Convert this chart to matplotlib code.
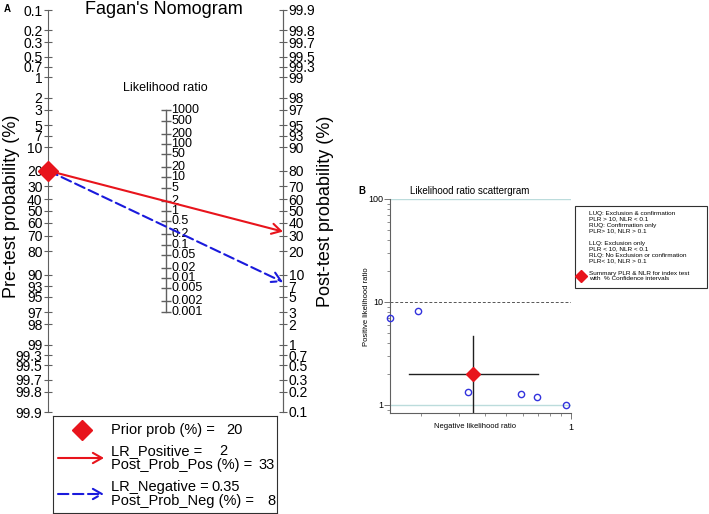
import numpy as np
import matplotlib
matplotlib.use('Agg')
import matplotlib.pyplot as plt
from matplotlib.patches import FancyArrowPatch, Rectangle

plt.rcParams['font.family'] = ['Liberation Sans', 'DejaVu Sans']

# ---- data: Fagan's nomogram (panel A)
pre_ticks = [0.1, 0.2, 0.3, 0.5, 0.7, 1, 2, 3, 5, 7, 10, 20, 30, 40, 50, 60, 70, 80,
             90, 93, 95, 97, 98, 99, 99.3, 99.5, 99.7, 99.8, 99.9]
post_ticks = pre_ticks
lr_ticks = [1000, 500, 200, 100, 50, 20, 10, 5, 2, 1, 0.5, 0.2, 0.1, 0.05, 0.02,
            0.01, 0.005, 0.002, 0.001]
prior_prob = 20
lr_pos = 2
lr_neg = 0.35
post_prob_pos = 33
post_prob_neg = 8

# ---- data: likelihood ratio scattergram (panel B)
study_nlr = [0.144, 0.194, 0.332, 0.585, 0.695, 0.95]
study_plr = [7.0, 8.2, 1.34, 1.28, 1.2, 1.0]
summary_nlr = 0.35
summary_plr = 2.0
nlr_ci = [0.177, 0.70]
plr_ci = [0.8, 4.7]

W, H = 709, 514
RED = '#e8141c'
BLUE = '#1a1adc'
GREY = '#606060'


def px(x, y):
    # pixel position -> figure fraction
    return x / W, 1 - y / H


def logit(p):
    p = np.asarray(p, dtype=float) / 100.0
    return np.log(p / (1 - p))


fig = plt.figure(figsize=(W / 100, H / 100), dpi=100)

# ================= panel A =================
lim = float(logit(99.9))
ax = fig.add_axes([48 / W, 1 - 412 / H, 235 / W, 402 / H])
ax.set_xlim(0, 1)
ax.set_ylim(-lim, lim)
for s in ['top', 'bottom']:
    ax.spines[s].set_visible(False)
for s in ['left', 'right']:
    ax.spines[s].set_color(GREY)
ax.set_xticks([])
ax.set_yticks(-logit(pre_ticks))
ax.set_yticklabels(['%g' % v for v in pre_ticks], fontsize=10)
ax.tick_params(axis='y', direction='inout', length=6, color=GREY, pad=1)

ax_r = ax.twinx()
ax_r.set_ylim(-lim, lim)
for s in ['top', 'bottom', 'left']:
    ax_r.spines[s].set_visible(False)
ax_r.spines['right'].set_color(GREY)
ax_r.set_yticks(logit(post_ticks))
ax_r.set_yticklabels(['%g' % v for v in post_ticks], fontsize=10)
ax_r.tick_params(axis='y', direction='inout', length=6, color=GREY, pad=1)

# middle likelihood ratio scale
lr_y = np.log(lr_ticks) / 2
ax.plot([0.5, 0.5], [lr_y.min(), lr_y.max()], color=GREY, lw=1)
ax.plot([0.5] * len(lr_ticks), lr_y, ls='none', marker='_', ms=7, mew=1, color=GREY)
for v, yy in zip(lr_ticks, lr_y):
    ax.annotate('%g' % v, (0.5, yy), xytext=(4, 0), textcoords='offset points',
                va='center', ha='left', fontsize=9)

# prior and arrows
y_prior = -float(logit(prior_prob))
ax.add_patch(FancyArrowPatch((0, y_prior), (1, float(logit(post_prob_pos))),
                             arrowstyle='->,head_length=0.65,head_width=0.37',
                             mutation_scale=10, color=RED, lw=1.5, shrinkA=0, shrinkB=0,
                             clip_on=False, zorder=4))
ax.add_patch(FancyArrowPatch((0, y_prior), (1, float(logit(post_prob_neg))),
                             arrowstyle='->,head_length=0.65,head_width=0.37',
                             mutation_scale=10, color=BLUE, lw=1.5, ls=(0, (5, 2.2)),
                             shrinkA=0, shrinkB=0, clip_on=False, zorder=4))
ax.plot([0], [y_prior], marker='D', ms=10, color=RED, clip_on=False, zorder=5)

fig.text(*px(164, 14), "Fagan's Nomogram", fontsize=13, ha='center', va='baseline')
fig.text(*px(165, 88), 'Likelihood ratio', fontsize=9, ha='center', va='center')
fig.text(*px(12, 206), 'Pre-test probability (%)', fontsize=13, rotation=90,
         ha='center', va='center')
fig.text(*px(325, 211), 'Post-test probability (%)', fontsize=13, rotation=90,
         ha='center', va='center')
fig.text(*px(7, 9), 'A', fontsize=7, fontweight='bold', ha='center', va='center')

# legend box for panel A (pixel units inside the box)
lg = fig.add_axes([53 / W, 1 - 513 / H, 224 / W, 97 / H])
lg.set_xlim(53, 277)
lg.set_ylim(513, 416)
lg.set_xticks([])
lg.set_yticks([])
for s in lg.spines.values():
    s.set_color('#303030')
lg.plot([82], [430], marker='D', ms=10, color=RED)
lg.add_patch(FancyArrowPatch((58, 458), (104, 458),
                             arrowstyle='->,head_length=0.65,head_width=0.37',
                             mutation_scale=10, color=RED, lw=1.5, shrinkA=0, shrinkB=0))
lg.add_patch(FancyArrowPatch((58, 494), (104, 494),
                             arrowstyle='->,head_length=0.65,head_width=0.37',
                             mutation_scale=10, color=BLUE, lw=1.5, ls=(0, (5, 2.2)),
                             shrinkA=0, shrinkB=0))
fs = 10.5
lg.text(111, 430, 'Prior prob (%) =', fontsize=fs, va='center')
lg.text(243, 430, '%g' % prior_prob, fontsize=fs, va='center', ha='right')
lg.text(111, 451, 'LR_Positive =', fontsize=fs, va='center')
lg.text(227, 451, '%g' % lr_pos, fontsize=fs, va='center', ha='right')
lg.text(111, 465, 'Post_Prob_Pos (%) =', fontsize=fs, va='center')
lg.text(275, 465, '%g' % post_prob_pos, fontsize=fs, va='center', ha='right')
lg.text(111, 487, 'LR_Negative =', fontsize=fs, va='center')
lg.text(240, 487, '%g' % lr_neg, fontsize=fs, va='center', ha='right')
lg.text(111, 501, 'Post_Prob_Neg (%) =', fontsize=fs, va='center')
lg.text(275, 501, '%g' % post_prob_neg, fontsize=fs, va='center', ha='right')

# ================= panel B =================
bx = fig.add_axes([390 / W, 1 - 413 / H, 181 / W, 214 / H])
bx.set_xscale('log')
bx.set_yscale('log')
bx.set_xlim(min(study_nlr), 1)
bx.set_ylim(0.836, 100)
for s in ['top', 'right']:
    bx.spines[s].set_visible(False)
for s in ['left', 'bottom']:
    bx.spines[s].set_color(GREY)
    bx.spines[s].set_linewidth(0.8)
bx.axhline(100, color='#bcdcdc', lw=1)
bx.axhline(1, color='#bcdcdc', lw=1)
bx.axhline(10, color='#555555', lw=0.7, ls=(0, (3, 2)))
bx.plot(nlr_ci, [summary_plr] * 2, color='#202020', lw=1)
bx.plot([summary_nlr] * 2, plr_ci, color='#202020', lw=1)
bx.plot(study_nlr, study_plr, ls='none', marker='o', ms=4.5, mfc='none',
        mec='#3333dd', mew=1, clip_on=False, zorder=5)
bx.plot([summary_nlr], [summary_plr], marker='D', ms=7, color=RED, zorder=6)
bx.set_yticks([1, 10, 100])
bx.set_yticklabels(['1', '10', '100'], fontsize=6.5)
bx.set_xticks([1])
bx.set_xticklabels(['1'], fontsize=6.5)
bx.xaxis.set_minor_formatter(plt.NullFormatter())
bx.yaxis.set_minor_formatter(plt.NullFormatter())
bx.tick_params(which='major', length=4, width=0.6, color=GREY, pad=1)
bx.tick_params(which='minor', length=2, width=0.5, color=GREY)
bx.tick_params(axis='x', which='major', pad=3)

fig.text(*px(470, 191), 'Likelihood ratio scattergram', fontsize=7, ha='center', va='center')
fig.text(*px(367, 307), 'Positive likelihood ratio', fontsize=5.5, rotation=90,
         ha='center', va='center')
fig.text(*px(475, 427), 'Negative likelihood ratio', fontsize=5.5, ha='center', va='center')
fig.text(*px(362, 191), 'B', fontsize=7, fontweight='bold', ha='center', va='center')

# legend box for panel B
fig.patches.append(Rectangle(px(575, 288), 132 / W, 82 / H, transform=fig.transFigure,
                             fill=False, edgecolor='#303030', lw=0.8))
legend_lines = [
    (213, 'LUQ: Exclusion & confirmation'),
    (219, 'PLR > 10, NLR < 0.1'),
    (225, 'RUQ: Confirmation only'),
    (231, 'PLR> 10, NLR > 0.1'),
    (243, 'LLQ: Exclusion only'),
    (249, 'PLR < 10, NLR < 0.1'),
    (255, 'RLQ: No Exclusion or confirmation'),
    (261, 'PLR< 10, NLR > 0.1'),
    (273, 'Summary PLR & NLR for index test'),
    (279, 'with  % Confidence intervals'),
]
for yy, txt in legend_lines:
    fig.text(*px(589, yy), txt, fontsize=4.6, ha='left', va='center')
fig.lines.append(plt.Line2D([581 / W], [1 - 276 / H], marker='D', ms=6, color=RED,
                            transform=fig.transFigure))

fig.savefig('out.png', dpi=100)
